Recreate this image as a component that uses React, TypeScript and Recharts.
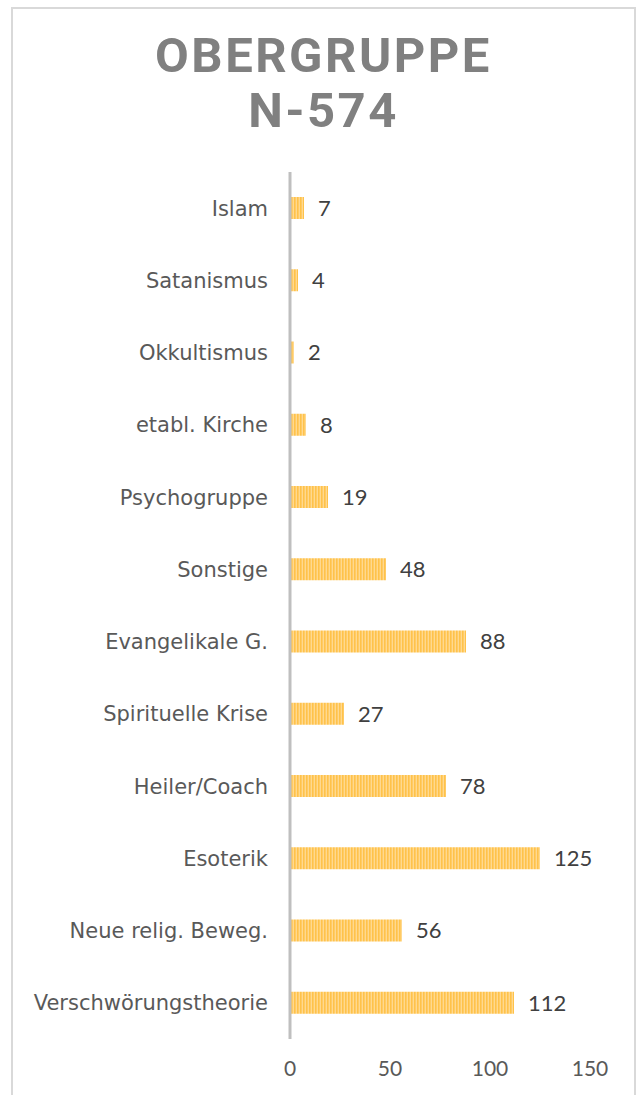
import { BarChart, Bar, XAxis, YAxis, LabelList } from 'recharts'

const categories = [
  'Islam',
  'Satanismus',
  'Okkultismus',
  'etabl. Kirche',
  'Psychogruppe',
  'Sonstige',
  'Evangelikale G.',
  'Spirituelle Krise',
  'Heiler/Coach',
  'Esoterik',
  'Neue relig. Beweg.',
  'Verschwörungstheorie',
]
const counts = [7, 4, 2, 8, 19, 48, 88, 27, 78, 125, 56, 112]
const xTicks = [0, 50, 100, 150]

const data = categories.map((name, i) => ({ name, value: counts[i] }))

const LABEL_FONT = '"DejaVu Sans", sans-serif'
const VALUE_FONT = 'Lato, sans-serif'

export default function App() {
  return (
    <div style={{ position: 'absolute', left: 0, top: 0, width: 639, height: 1095, overflow: 'hidden', background: 'white' }}>
      <div
        style={{
          position: 'absolute',
          top: 28,
          left: 4,
          width: 639,
          textAlign: 'center',
          fontFamily: 'Roboto, sans-serif',
          fontWeight: 700,
          fontSize: 49,
          lineHeight: '55px',
          letterSpacing: 2.5,
          color: '#808080',
        }}
      >
        OBERGRUPPE
        <br />
        N-574
      </div>
      <div style={{ position: 'absolute', left: 0, top: 0 }}>
        <BarChart
          width={639}
          height={1095}
          data={data}
          layout="vertical"
          margin={{ top: 172, right: 49, bottom: 26, left: 0 }}
          barSize={22}
        >
          <defs>
            <pattern id="stripes" width="3" height="10" patternUnits="userSpaceOnUse">
              <rect x="0" y="0" width="3" height="10" fill="#ffd98f" />
              <rect x="0" y="0" width="1.6" height="10" fill="#ffc24a" />
            </pattern>
          </defs>
          <XAxis
            type="number"
            domain={[0, 150]}
            ticks={xTicks}
            axisLine={false}
            tickLine={false}
            tickSize={0}
            tickMargin={22}
            height={30}
            tick={{ fill: '#595959', fontSize: 21, fontFamily: VALUE_FONT }}
          />
          <YAxis
            type="category"
            dataKey="name"
            width={290}
            axisLine={{ stroke: '#bfbfbf', strokeWidth: 3 }}
            tickLine={false}
            tickSize={0}
            tickMargin={22}
            interval={0}
            tick={{ fill: '#595959', fontSize: 21, fontFamily: LABEL_FONT }}
          />
          <Bar dataKey="value" fill="url(#stripes)" isAnimationActive={false}>
            <LabelList
              dataKey="value"
              position="right"
              offset={14}
              fill="#404040"
              fontSize={22}
              fontFamily={VALUE_FONT}
            />
          </Bar>
        </BarChart>
      </div>
      <div
        style={{
          position: 'absolute',
          left: 11,
          top: 7,
          width: 625,
          height: 1100,
          border: '2px solid #d9d9d9',
          boxSizing: 'border-box',
          pointerEvents: 'none',
        }}
      />
    </div>
  )
}
